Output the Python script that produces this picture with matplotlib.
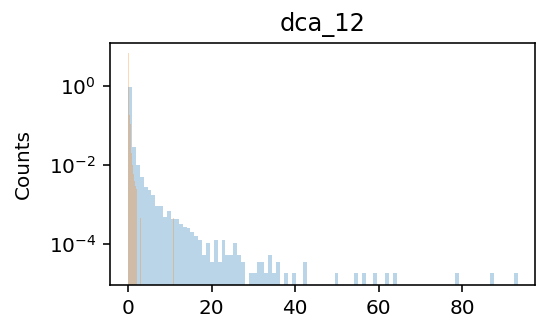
import numpy as np
import matplotlib
matplotlib.use("Agg")
import matplotlib.pyplot as plt
from matplotlib.ticker import FixedLocator, NullLocator

title = "dca_12"
ylabel = "Counts"

# Blue series: 100 equal bins over [0, 93.2], heights (density)
blue_range = (0.0, 93.2)
blue_heights = [
    0.96, 0.029, 0.010, 0.005, 0.0028, 0.0023, 0.0017, 0.00093, 0.00093, 0.00049,
    0.00069, 0.00043, 0.00043, 0.00033, 0.00027, 0.00025, 0.00020, 0.00016, 0.000126, 5.4e-5,
    1.08e-4, 3.6e-5, 1.26e-4, 3.6e-5, 1.26e-4, 5.4e-5, 5.4e-5, 1.08e-4, 5.4e-5, 3.6e-5,
    0, 1.8e-5, 1.8e-5, 3.6e-5, 3.6e-5, 1.8e-5, 5.4e-5, 1.8e-5, 3.6e-5, 0,
    1.8e-5, 0, 1.8e-5, 0, 0, 3.6e-5, 0, 0, 0, 0,
    0, 0, 0, 1.8e-5, 0, 0, 0, 0, 1.8e-5, 0,
    1.8e-5, 0, 0, 1.8e-5, 0, 0, 1.8e-5, 0, 1.8e-5, 0,
    0, 0, 0, 0, 0, 0, 0, 0, 0, 0,
    0, 0, 0, 0, 1.8e-5, 0, 0, 0, 0, 0,
    0, 0, 0, 1.8e-5, 0, 0, 0, 0, 0, 1.8e-5,
]

# Orange series: 100 equal bins over [0, 10.9]; non-zero bins only
orange_range = (0.0, 10.9)
orange_bins = [0, 1, 2, 3, 4, 5, 6, 7, 8, 9, 10, 11, 12, 13, 14, 15, 16, 17, 18, 19, 27, 99]
orange_heights = [6.7, 0.30, 0.22, 0.18, 0.14, 0.11, 0.05, 0.02, 0.012, 0.010, 0.008, 0.006,
                  0.005, 0.005, 0.004, 0.0035, 0.003, 0.003, 0.0025, 0.002, 4.5e-4, 4.5e-4]

yticks = [1e-4, 1e-2, 1e0]
xticks = [0, 20, 40, 60, 80]

n_bins = 100
blue_edges = np.linspace(blue_range[0], blue_range[1], n_bins + 1)
blue_centers = 0.5 * (blue_edges[:-1] + blue_edges[1:])

orange_edges = np.linspace(orange_range[0], orange_range[1], n_bins + 1)
orange_centers_all = 0.5 * (orange_edges[:-1] + orange_edges[1:])
orange_w = np.zeros(n_bins)
orange_w[orange_bins] = orange_heights

DPI = 144
fig = plt.figure(figsize=(536 / DPI, 321 / DPI), dpi=DPI)
ax = fig.add_axes([110 / 536, 36 / 321, 425 / 536, 242 / 321])

ax.hist(blue_centers, bins=blue_edges, weights=blue_heights, color="tab:blue", alpha=0.3)
ax.hist(orange_centers_all, bins=orange_edges, weights=orange_w, color="tab:orange", alpha=0.3)

ax.set_yscale("log")
ax.set_ylim(9.2e-6, 12.3)
ax.set_xlim(-4.336, 97.364)
ax.xaxis.set_major_locator(FixedLocator(xticks))
ax.yaxis.set_major_locator(FixedLocator(yticks))
ax.yaxis.set_minor_locator(NullLocator())
ax.set_title(title)
ax.set_ylabel(ylabel, labelpad=8)

fig.savefig("out.png", dpi=DPI)
